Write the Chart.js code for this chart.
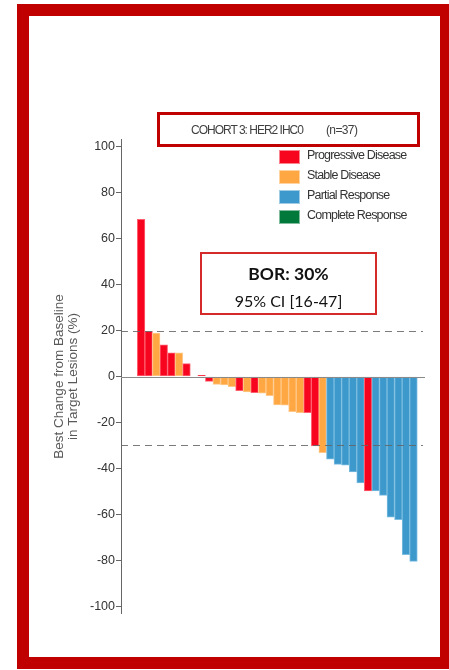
<!DOCTYPE html>
<html>
<head>
<meta charset="utf-8">
<script src="https://cdn.jsdelivr.net/npm/chart.js@4.4.1/dist/chart.umd.min.js"></script>
<style>
    body { margin: 0; width: 449px; height: 670px; background: #fff; position: relative; overflow: hidden; font-family: "Liberation Sans", Arial, sans-serif; }
    #frame { position: absolute; left: 17px; top: 4px; width: 432px; height: 665px; box-sizing: border-box;
             border: solid #c00000; border-width: 12px 9px 12px 12px; }
    #wrap { position: absolute; left: 0; top: 0; width: 449px; height: 670px; }
    #cohort { position: absolute; left: 157px; top: 112px; width: 263px; height: 35px; box-sizing: border-box;
              border: 3.5px solid #c00000; color: #404040; font-size: 12px; letter-spacing: -1px;
              line-height: 30px; padding-left: 31px; white-space: nowrap; }
    #cohort span { margin-left: 23px; letter-spacing: -0.6px; }
    #legend { position: absolute; left: 279px; top: 150px; }
    .item { position: relative; height: 20px; }
    .swatch { position: absolute; left: 0; top: 0; width: 19px; height: 12px; border: 1px solid rgba(255,255,255,0.5); }
    .label { position: absolute; left: 28px; top: -2px; font-size: 12.5px; letter-spacing: -0.8px; color: #333; white-space: nowrap; }
    #bor { position: absolute; left: 200px; top: 252px; width: 177px; height: 63px; box-sizing: border-box;
           border: 2px solid #d42a2a; text-align: center; font-family: Lato, "Open Sans", sans-serif;
           font-size: 16px; color: #111; padding-top: 6px; line-height: 27px; }
    #bor b { font-weight: 700; font-size: 17.5px; }
</style>
</head>
<body>
<div id="frame"></div>
<div id="wrap"><canvas id="chart" width="449" height="670"></canvas></div>
<div id="cohort">COHORT 3: HER2 IHC0<span>(n=37)</span></div>
<div id="legend"></div>
<div id="bor"><b>BOR: 30%</b><br>95% CI [16-47]</div>

<script>
// best change per patient, sorted as a waterfall
const changes = [68.3, 19.6, 18.9, 13.8, 10.3, 10.3, 5.6, 0, 0.5,
    -2.1, -3.4, -3.7, -4.4, -6.2, -6.7, -7.0, -7.3, -8.3, -12.4, -12.5, -15.3, -15.7, -15.7,
    -30.2, -33.1, -35.9, -38.2, -38.6, -41.5, -46.3, -49.8, -49.8, -51.7, -61.2, -62.2, -77.5, -80.4];
const responses = ["PD", "PD", "SD", "PD", "PD", "SD", "PD", "SD", "PD",
    "PD", "SD", "SD", "SD", "PD", "SD", "PD", "SD", "SD", "SD", "SD", "SD", "SD", "PD",
    "PD", "SD", "PR", "PR", "PR", "PR", "PR", "PD", "PR", "PR", "PR", "PR", "PR", "PR"];

const categories = ["PD", "SD", "PR", "CR"];
const categoryNames = ["Progressive Disease", "Stable Disease", "Partial Response", "Complete Response"];
const categoryColors = ["#f7051f", "#ffa843", "#3d98cb", "#00793a"];
const categoryEdges = ["#ff6070", "#ffc88a", "#7cbde0", "#3fa36a"];

const yTicks = [-100, -80, -60, -40, -20, 0, 20, 40, 60, 80, 100];
const thresholds = [20, -30];

// x range leaves room between the y axis and the first bar
const xMin = -1.656;
const xMax = 38.52;

// legend
const legendEl = document.getElementById("legend");
categoryNames.forEach((name, i) => {
    const item = document.createElement("div");
    item.className = "item";
    item.innerHTML = `<div class="swatch" style="background:${categoryColors[i]}"></div><div class="label">${name}</div>`;
    legendEl.appendChild(item);
});

const points = changes.map((v, i) => ({ x: i + 1, y: v }));
const colorOf = (r) => categoryColors[categories.indexOf(r)];
const edgeOf = (r) => categoryEdges[categories.indexOf(r)];

// zero line + dashed response thresholds
const refLines = {
    id: "refLines",
    afterDatasetsDraw(chart) {
        const { ctx, chartArea, scales } = chart;
        ctx.save();
        ctx.lineWidth = 1;
        ctx.strokeStyle = "#8a8a8a";
        const y0 = Math.round(scales.y.getPixelForValue(0)) + 0.5;
        ctx.beginPath();
        ctx.moveTo(chartArea.left, y0);
        ctx.lineTo(chartArea.right, y0);
        ctx.stroke();
        ctx.setLineDash([7, 5]);
        ctx.strokeStyle = "rgba(100,100,100,0.85)";
        thresholds.forEach((t) => {
            const y = Math.round(scales.y.getPixelForValue(t)) + 0.5;
            ctx.beginPath();
            ctx.moveTo(chartArea.left, y);
            ctx.lineTo(chartArea.right - 2, y);
            ctx.stroke();
        });
        ctx.restore();
    }
};

new Chart(document.getElementById("chart"), {
    type: "bar",
    data: {
        datasets: [{
            data: points,
            backgroundColor: responses.map(colorOf),
            borderColor: responses.map(edgeOf),
            borderWidth: 1,
            borderSkipped: false,
            barPercentage: 1,
            categoryPercentage: 1
        }]
    },
    options: {
        responsive: false,
        animation: false,
        devicePixelRatio: 1,
        layout: { padding: { left: 0, top: 139.6, right: 24, bottom: 56.6 } },
        plugins: { legend: { display: false }, tooltip: { enabled: false } },
        scales: {
            x: {
                type: "linear",
                display: false,
                offset: false,
                bounds: "data",
                min: xMin,
                max: xMax,
                // one tick per patient so bar width follows patient spacing
                afterBuildTicks: (scale) => {
                    scale.min = xMin;
                    scale.max = xMax;
                    scale.ticks = points.map((p) => ({ value: p.x }));
                }
            },
            y: {
                min: -103,
                max: 103,
                afterBuildTicks: (scale) => { scale.ticks = yTicks.map((v) => ({ value: v })); },
                afterFit: (scale) => { scale.width = 121; },
                grid: { drawOnChartArea: false, tickLength: 5, tickColor: "#666", lineWidth: 1 },
                border: { color: "#666", width: 1 },
                ticks: {
                    padding: 1,
                    color: "#333",
                    font: { family: "Liberation Sans", size: 12.5 }
                },
                title: {
                    display: true,
                    text: ["Best Change from Baseline", "in Target Lesions (%)"],
                    color: "#595959",
                    font: { family: "Liberation Sans", size: 13.5, lineHeight: "14px" },
                    padding: { top: 52.7, bottom: 0 }
                }
            }
        }
    },
    plugins: [refLines]
});
</script>
</body>
</html>
